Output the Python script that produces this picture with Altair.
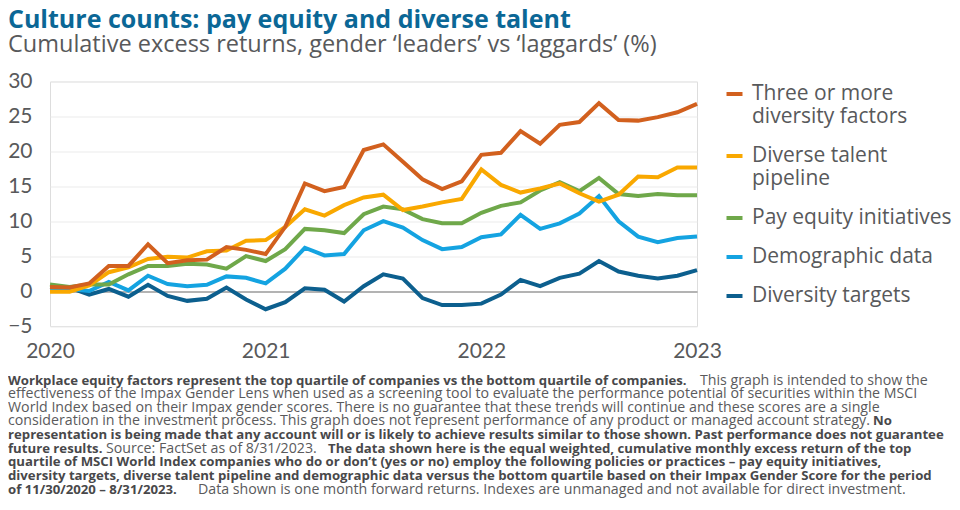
import altair as alt
import pandas as pd

# ---------------- data ----------------
SERIES = [
    "Three or more diversity factors",
    "Diverse talent pipeline",
    "Pay equity initiatives",
    "Demographic data",
    "Diversity targets",
]
LEGEND_LINES = [
    ["Three or more", "diversity factors"],
    ["Diverse talent", "pipeline"],
    ["Pay equity initiatives"],
    ["Demographic data"],
    ["Diversity targets"],
]
COLORS = ["#D2601E", "#F9A800", "#6FA84A", "#14A3E1", "#0C5F8E"]
YEAR_LABELS = ["2020", "2021", "2022", "2023"]
YEAR_TICKS = [0, 11, 22, 33]
Y_TICKS = [-5, 0, 5, 10, 15, 20, 25, 30]

THREE_OR_MORE = [0.6, 0.5, 1.1, 3.6, 3.6, 6.7, 4.0, 4.4, 4.5, 6.3, 5.9, 5.3,
                 9.2, 15.4, 14.3, 14.9, 20.2, 21.0, 18.5, 16.0, 14.6, 15.7, 19.5,
                 19.8, 22.9, 21.1, 23.8, 24.2, 26.9, 24.5, 24.4, 24.9, 25.6, 26.8]
TALENT = [-0.1, -0.1, 0.8, 2.7, 3.4, 4.6, 4.9, 4.8, 5.7, 5.8, 7.2, 7.3,
          9.2, 11.7, 10.8, 12.3, 13.4, 13.8, 11.6, 12.1, 12.7, 13.2, 17.4,
          15.2, 14.1, 14.7, 15.4, 14.0, 12.8, 13.8, 16.4, 16.3, 17.7, 17.7]
PAY = [0.95, 0.6, 0.95, 0.95, 2.4, 3.6, 3.6, 3.9, 3.8, 3.2, 5.0, 4.3,
       6.0, 8.9, 8.7, 8.3, 11.0, 12.1, 11.7, 10.3, 9.7, 9.7, 11.2,
       12.2, 12.7, 14.4, 15.6, 14.3, 16.2, 13.9, 13.6, 13.9, 13.7, 13.7]
DEMO = [0.3, 0.3, 0.0, 1.3, 0.1, 2.2, 1.0, 0.7, 0.9, 2.1, 1.9, 1.1,
        3.2, 6.2, 5.1, 5.3, 8.7, 10.0, 9.1, 7.3, 6.0, 6.3, 7.7,
        8.1, 10.9, 8.9, 9.7, 11.1, 13.6, 10.0, 7.8, 7.0, 7.6, 7.8]
TARGETS = [0.6, 0.5, -0.5, 0.3, -0.8, 0.9, -0.7, -1.4, -1.1, 0.5, -1.2, -2.6,
           -1.6, 0.4, 0.2, -1.5, 0.7, 2.4, 1.8, -1.0, -2.0, -2.0, -1.8,
           -0.5, 1.6, 0.7, 1.9, 2.5, 4.3, 2.8, 2.2, 1.8, 2.2, 3.0]

TITLE = "Culture counts: pay equity and diverse talent"
SUBTITLE = "Cumulative excess returns, gender \u2018leaders\u2019 vs \u2018laggards\u2019 (%)"

# footnote: each line is a list of (text, bold) segments
FOOTNOTE = [
    [("Workplace equity factors represent the top quartile of companies vs the bottom quartile of companies.", True),
     ("This graph is intended to show the", False)],
    [("effectiveness of the Impax Gender Lens when used as a screening tool to evaluate the performance potential of securities within the MSCI", False)],
    [("World Index based on their Impax gender scores. There is no guarantee that these trends will continue and these scores are a single", False)],
    [("consideration in the investment process. This graph does not represent performance of any product or managed account strategy.", False),
     ("No", True)],
    [("representation is being made that any account will or is likely to achieve results similar to those shown. Past performance does not guarantee", True)],
    [("future results.", True), ("Source: FactSet as of 8/31/2023.", False),
     ("The data shown here is the equal weighted, cumulative monthly excess return of the top", True)],
    [("quartile of MSCI World Index companies who do or don\u2019t (yes or no) employ the following policies or practices \u2013 pay equity initiatives,", True)],
    [("diversity targets, diverse talent pipeline and demographic data versus the bottom quartile based on their Impax Gender Score for the period", True)],
    [("of 11/30/2020 \u2013 8/31/2023.", True),
     ("Data shown is one month forward returns. Indexes are unmanaged and not available for direct investment.", False)],
]
# page x where each segment starts (layout, not data)
FOOT_X = [[8, 700], [8], [8], [8, 873], [8], [8, 106, 328], [8], [8], [8, 198]]

# ---------------- layout ----------------
PLOT_LEFT, PLOT_TOP = 50, 81.5
W, H = 647, 244.5
FONT = "Lato"
WIDE_FONT = "Open Sans"
TEXT_GREY = "#58595B"

values = [THREE_OR_MORE, TALENT, PAY, DEMO, TARGETS]
rows = []
for s_idx in reversed(range(len(SERIES))):
    for m, v in enumerate(values[s_idx]):
        rows.append({"month": m, "value": v, "series": SERIES[s_idx]})
df = pd.DataFrame(rows)

year_expr = " : ".join(
    f"datum.value == {t} ? '{lab}'" for t, lab in zip(YEAR_TICKS, YEAR_LABELS)
) + " : ''"

legend_expr = ""
for name, lines in zip(SERIES, LEGEND_LINES):
    arr = "[" + ", ".join(f"'{l}'" for l in lines) + "]"
    legend_expr += f"datum.label == '{name}' ? {arr} : "
legend_expr += "datum.label"

x_enc = alt.X(
    "month:Q",
    scale=alt.Scale(domain=[0, 33], nice=False, zero=False),
    axis=alt.Axis(values=YEAR_TICKS, labelExpr=year_expr, grid=False, domain=False,
                  ticks=False, title=None, labelFontSize=21, labelFont=FONT,
                  labelColor=TEXT_GREY, labelPadding=14, labelFlush=False,
                  labelOverlap=False),
)
y_enc = alt.Y(
    "value:Q",
    scale=alt.Scale(domain=[-5, 30], nice=False, zero=False),
    axis=alt.Axis(values=Y_TICKS, grid=True,
                  gridColor=alt.condition("datum.value == 0", alt.value("#9A9A9A"), alt.value("#EBEBEB")),
                  gridWidth=alt.condition("datum.value == 0", alt.value(1.5), alt.value(1)),
                  domain=False, ticks=False, title=None, labelFontSize=21,
                  labelFont=FONT, labelColor=TEXT_GREY, labelPadding=18,
                  labelOverlap=False, labelFlush=False),
)

lines = alt.Chart(df).mark_line(strokeWidth=4).encode(
    x=x_enc,
    y=y_enc,
    color=alt.Color(
        "series:N",
        scale=alt.Scale(domain=SERIES, range=COLORS),
        legend=alt.Legend(
            orient="none", legendX=674, legendY=2, title=None, padding=0,
            symbolType="stroke", symbolStrokeWidth=4, symbolSize=256,
            labelFontSize=21, labelFont=WIDE_FONT, labelColor=TEXT_GREY,
            labelOffset=7, rowPadding=17, labelLimit=400,
            labelExpr=legend_expr, labelBaseline="middle",
        ),
    ),
    order=alt.Order("month:Q"),
)

layers = [lines]
LINE_Y0, LINE_DY = 380.5, 13.65
for li, segs in enumerate(FOOTNOTE):
    for si, (txt, bold) in enumerate(segs):
        layers.append(
            alt.Chart(pd.DataFrame({"t": [txt]})).mark_text(
                align="left", baseline="middle", font=WIDE_FONT,
                fontSize=13.2 if bold else 14.2,
                fontWeight="bold" if bold else "normal",
                color="#48484A" if bold else "#5A5A5C",
            ).encode(
                text="t:N",
                x=alt.value(FOOT_X[li][si] - PLOT_LEFT),
                y=alt.value(LINE_Y0 + li * LINE_DY - PLOT_TOP),
            )
        )

chart = alt.layer(*layers).properties(
    width=W, height=H,
    autosize=alt.AutoSizeParams(type="none"),
    padding={"left": PLOT_LEFT - 8, "top": PLOT_TOP - 8, "right": 944 - (PLOT_LEFT - 8) - W,
             "bottom": 494 - (PLOT_TOP - 8) - H},
    title=alt.Title(
        text=TITLE, subtitle=SUBTITLE, anchor="start", frame="group", dx=-42,
        font=WIDE_FONT, fontSize=25, fontWeight="bold", color="#0B6796",
        subtitleFont=WIDE_FONT, subtitleFontSize=23.5, subtitleColor=TEXT_GREY,
        subtitlePadding=0, offset=14,
    ),
).configure_view(stroke=None).configure(
    background="white",
    style={"guide-label": {"lineHeight": 23}},
)

chart.save("out.html", embed_options={"renderer": "svg", "actions": False})
